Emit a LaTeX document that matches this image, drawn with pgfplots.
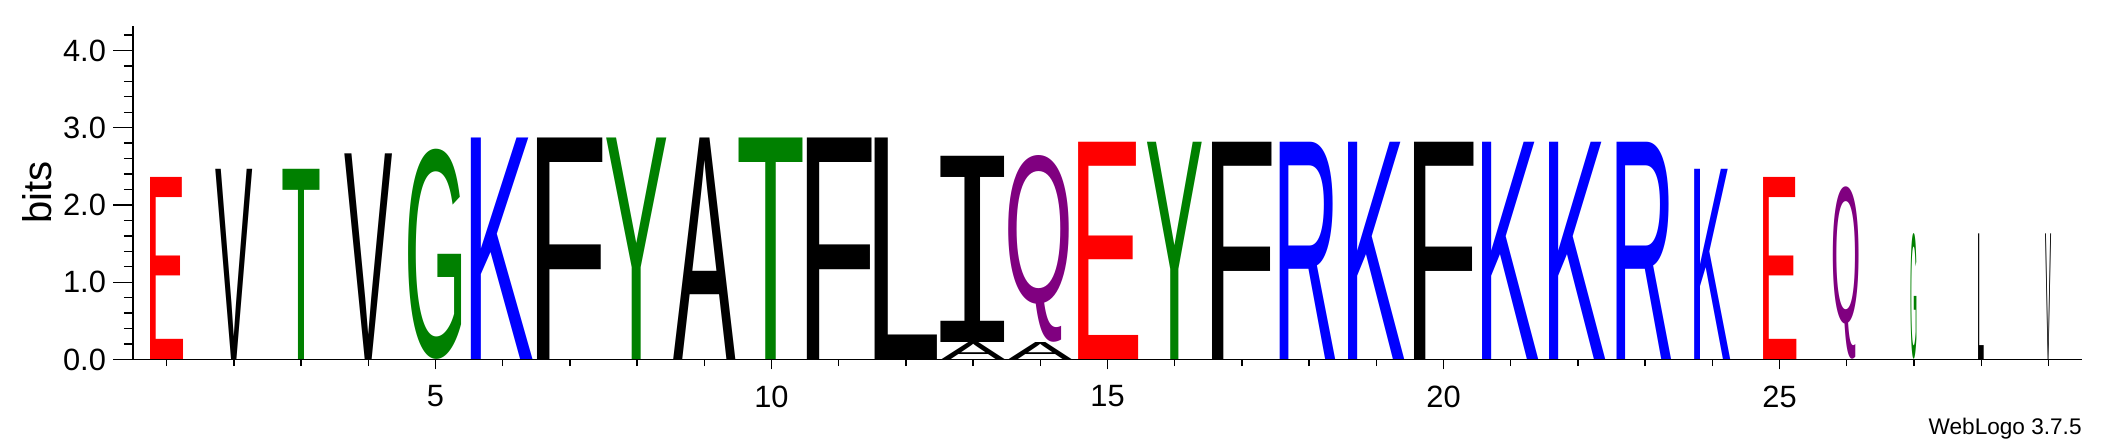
\documentclass[border=0pt]{standalone}
\usepackage{graphicx}
\usepackage{fontspec}
\setmainfont{Liberation Sans}
\newfontfamily\logofont{Liberation Sans}
\newfontfamily\ifont{DejaVu Sans Mono}
\usepackage{pgfplots}
\pgfplotsset{compat=1.18}

\definecolor{wlred}{rgb}{1,0,0}
\definecolor{wlblue}{rgb}{0,0,1}
\definecolor{wlgreen}{rgb}{0,0.5,0}
\definecolor{wlpurple}{rgb}{0.5,0,0.5}

% glyph of a residue, side bearings cut off, and its colour
\newcommand\defglyph[5]{%
  \expandafter\def\csname glyph#1\endcsname{{#5\kern-#2em #1\kern-#3em}}%
  \colorlet{col#1}{#4}}
\defglyph{A}{0}{0}{black}{\logofont}
\defglyph{E}{0.077}{0.065}{wlred}{\logofont}
\defglyph{F}{0.082}{0.051}{black}{\logofont}
\defglyph{G}{0.053}{0.062}{wlgreen}{\logofont}
\defglyph{I}{0.1}{0.1}{black}{\ifont}
\defglyph{K}{0.073}{0}{wlblue}{\logofont}
\defglyph{L}{0.073}{0.036}{black}{\logofont}
\defglyph{Q}{0.043}{0.022}{wlpurple}{\logofont}
\defglyph{R}{0.079}{0.021}{wlblue}{\logofont}
\defglyph{T}{0.023}{0.023}{wlgreen}{\logofont}
\defglyph{V}{0.004}{0.004}{black}{\logofont}
\defglyph{Y}{0.003}{0.003}{wlgreen}{\logofont}

\pgfdeclareplotmark{nix}{}
% axis units: 974.5pt / 29 positions, 166.9pt / 4.32 bits
\def\xu{33.6034pt}
\def\yu{38.6343pt}

\pgfplotsset{
  logo/.style={
    scale only axis, width=974.5pt, height=166.9pt,
    xmin=0.5, xmax=29.5, ymin=0, ymax=4.32,
    clip=false, tick align=outside,
    axis line style={line width=0.9pt, -},
    tick style={line width=0.7pt, black},
    /pgf/number format/assume math mode=true,
    tick label style={font=\fontsize{15.4}{18}\selectfont},
  }
}

\begin{document}
\begin{tikzpicture}
% y axis
\begin{axis}[logo,
  axis y line*=left, axis x line=none,
  major tick length=10pt, minor tick length=4.6pt,
  ytick={0,1,2,3,4},
  minor ytick={0.2,0.4,0.6,0.8,1.2,1.4,1.6,1.8,2.2,2.4,2.6,2.8,3.2,3.4,3.6,3.8,4.2},
  yticklabel style={/pgf/number format/.cd, fixed, fixed zerofill, precision=1},
  ylabel={bits},
  ylabel style={at={(axis description cs:-0.0493,0.5)}, anchor=center,
    font=\fontsize{20}{24}\selectfont},
]
\end{axis}
% x axis and letters
\begin{axis}[logo, name=main,
  axis x line*=bottom, axis y line=none,
  major tick length=5pt, minor tick length=3.3pt,
  xtick={5,10,15,20,25},
  minor xtick={1,2,3,4,6,7,8,9,11,12,13,14,16,17,18,19,21,22,23,24,26,27,28,29},
  xticklabel style={yshift=-4.5pt},
]
\addplot[scatter, only marks, mark=nix,
  visualization depends on={value \thisrow{w} \as \gW},
  visualization depends on={value \thisrow{h} \as \gH},
  visualization depends on={value \thisrow{l} \as \gL},
  scatter/@pre marker code/.code={%
    \pgfmathsetlengthmacro\gw{\gW*\xu}%
    \pgfmathsetlengthmacro\gh{\gH*\yu}%
    \pgftext[bottom]{\textcolor{col\gL}{\resizebox*{\gw}{\gh}{\csname glyph\gL\endcsname}}}%
  },
  scatter/@post marker code/.code={},
] table {
x  y     w     h     l
1  0     0.476 2.355 E
2  0     0.55  2.46  V
3  0     0.55  2.46  T
4  0     0.71  2.66  V
5  0     0.80  2.72  G
6  0     0.95  2.865 K
7  0     0.95  2.865 F
8  0     0.95  2.865 Y
9  0     0.93  2.865 A
10 0     0.95  2.865 T
11 0     0.94  2.865 F
12 0     0.94  2.865 L
13 0     0.94  0.22  A
13 0.22  0.94  2.41  I
14 0     0.94  0.22  A
14 0.22  0.94  2.416 Q
15 0     0.865 2.81  E
16 0     0.865 2.81  Y
17 0     0.865 2.81  F
18 0     0.865 2.81  R
19 0     0.865 2.81  K
20 0     0.865 2.81  F
21 0     0.865 2.81  K
22 0     0.865 2.81  K
23 0     0.85  2.81  R
24 0     0.555 2.46  K
25 0     0.48  2.355 E
26 0     0.40  2.23  Q
27 0     0.09  1.626 G
28 0     0.085 1.626 L
29 0     0.09  1.626 V
};
\node[anchor=base east, inner sep=0pt, font=\fontsize{11.3}{13}\selectfont]
  at (axis description cs:1,-0.226) {WebLogo 3.7.5};
\end{axis}
\path ([xshift=-66.5pt,yshift=-42.25pt]main.south west)
  rectangle ([xshift=11.5pt,yshift=12.85pt]main.north east);
\end{tikzpicture}
\end{document}
